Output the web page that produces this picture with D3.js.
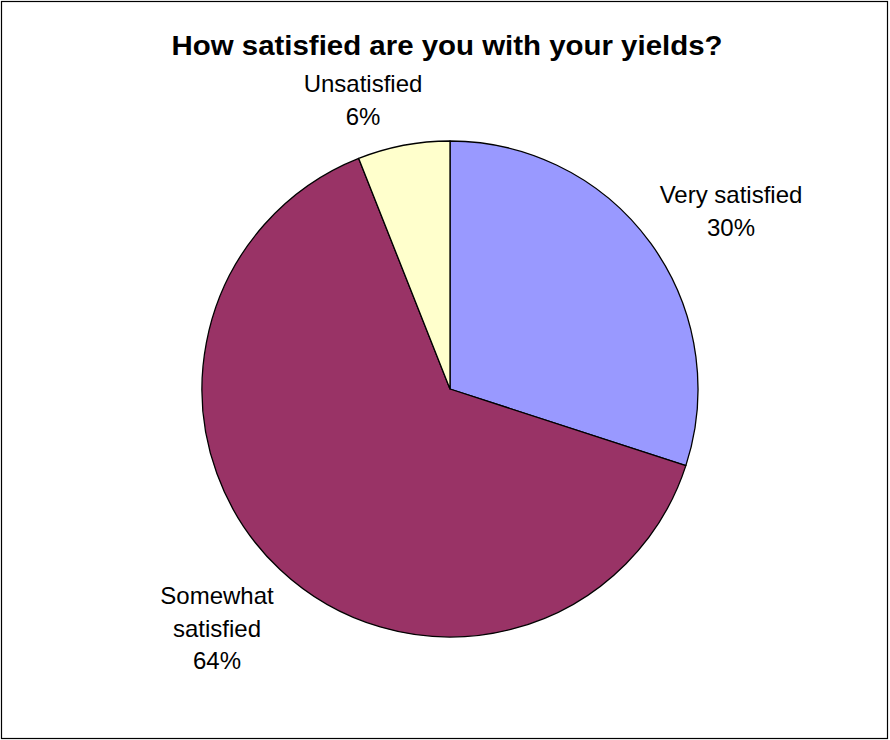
<!DOCTYPE html>
<html><head><meta charset="utf-8">
<script src="https://cdn.jsdelivr.net/npm/d3@7"></script>
<style>body{margin:0;background:#fff}svg{display:block}</style>
</head><body>
<svg id="c" width="890" height="740"></svg>
<script>
const categories = ["Very satisfied", "Somewhat satisfied", "Unsatisfied"];
const values = [30, 64, 6];
const colors = ["#9999FF", "#993366", "#FFFFCC"];
const labelLines = [["Very satisfied", "30%"], ["Somewhat", "satisfied", "64%"], ["Unsatisfied", "6%"]];
const labelPos = [[731, 203], [217, 604], [363, 92]];

const svg = d3.select("#c");
svg.append("rect").attr("x", 1.5).attr("y", 1.5).attr("width", 886).attr("height", 737)
  .attr("fill", "#fff").attr("stroke", "#000").attr("stroke-width", 1.2);

svg.append("text").attr("x", 447).attr("y", 55).attr("text-anchor", "middle")
  .attr("font-family", "Liberation Sans, Arial, sans-serif").attr("font-weight", "bold")
  .attr("font-size", 28).attr("textLength", 551).attr("lengthAdjust", "spacingAndGlyphs")
  .text("How satisfied are you with your yields?");

const cx = 450, cy = 389, r = 248;
const pie = d3.pie().sort(null).value(d => d)(values);
const arc = d3.arc().innerRadius(0).outerRadius(r);
const g = svg.append("g").attr("transform", `translate(${cx},${cy})`);
g.selectAll("path").data(pie).join("path")
  .attr("d", arc).attr("fill", (d, i) => colors[i])
  .attr("stroke", "#000").attr("stroke-width", 1.3).attr("stroke-linejoin", "round");

labelLines.forEach((lines, i) => {
  const t = svg.append("text").attr("text-anchor", "middle")
    .attr("font-family", "Liberation Sans, Arial, sans-serif").attr("font-size", 24).attr("fill", "#000");
  lines.forEach((s, j) => t.append("tspan").attr("x", labelPos[i][0]).attr("y", labelPos[i][1] + j * 32.5).text(s));
});
</script>
</body></html>
